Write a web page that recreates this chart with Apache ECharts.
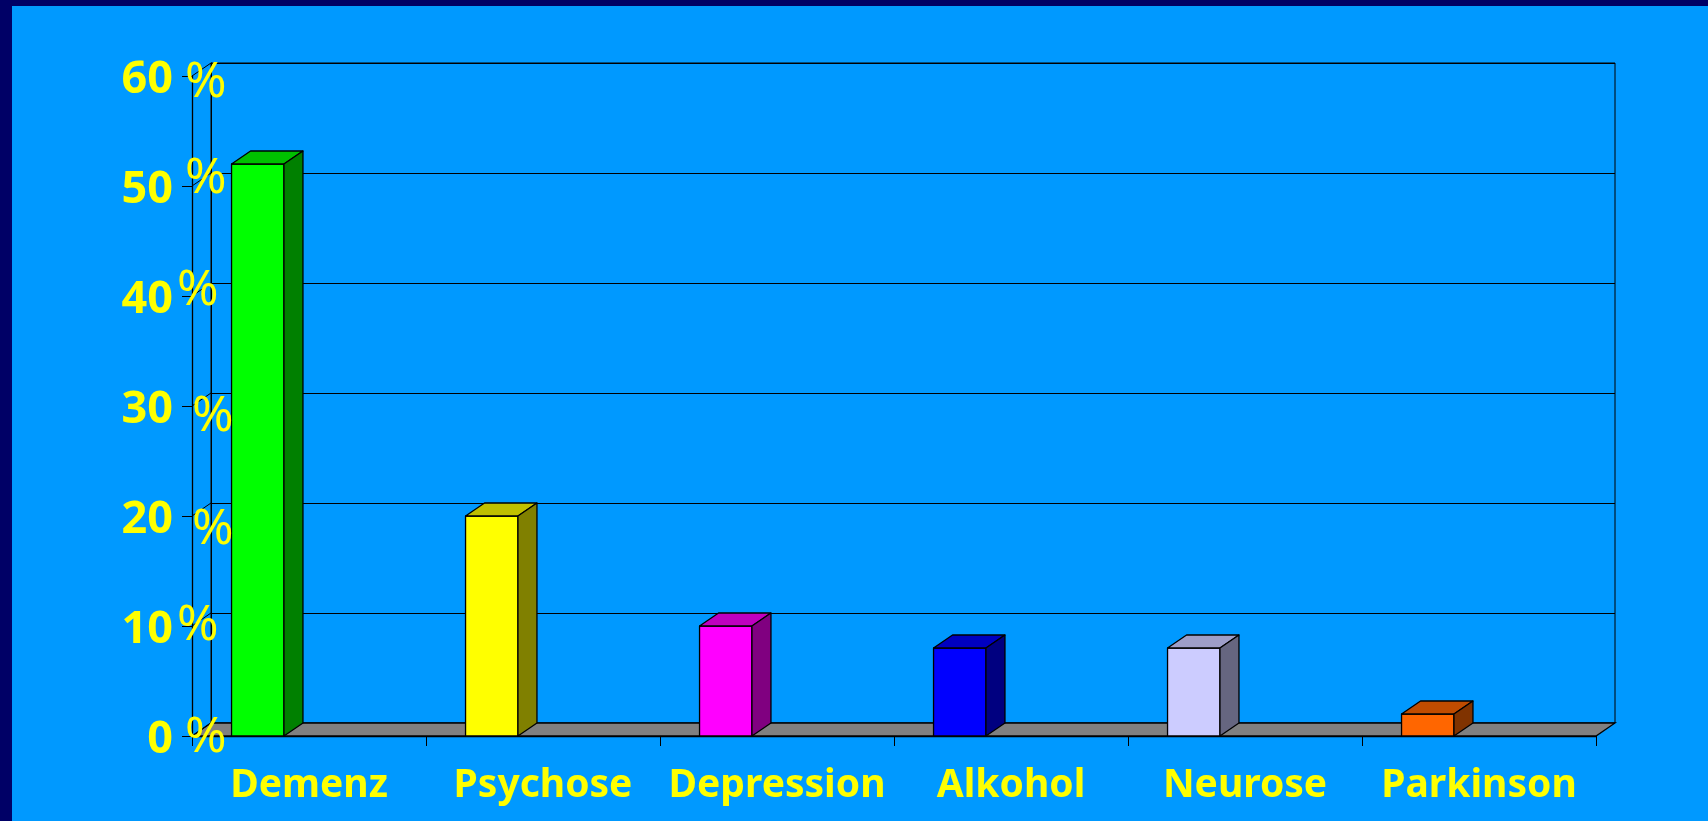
<!DOCTYPE html>
<html>
<head>
<meta charset="utf-8">
<title>Diagnosen</title>
<script src="https://cdn.jsdelivr.net/npm/echarts@6/dist/echarts.min.js"></script>
<style>
  html, body { margin: 0; padding: 0; background: #000066; }
  #frame { position: absolute; left: 12px; top: 6px; right: 0; bottom: 0; background: #0099FF; }
  #chart { position: absolute; left: 0; top: 0; width: 1708px; height: 821px; }
</style>
</head>
<body>
<div id="frame"></div>
<div id="chart"></div>
<script>
// Diagnoses and their shares in percent
const categories = ['Demenz', 'Psychose', 'Depression', 'Alkohol', 'Neurose', 'Parkinson'];
const shares = [52, 20, 10, 8, 8, 2];
// value-axis ticks (percent)
const yTicks = [0, 10, 20, 30, 40, 50, 60];

// Face colours of each column: front, top, side
const frontColors = ['#00FF00', '#FFFF00', '#FF00FF', '#0000FF', '#CCCCFF', '#FF6600'];
const topColors   = ['#00C000', '#C0C000', '#C000C0', '#0000C0', '#9E9EC8', '#C04C00'];
const sideColors  = ['#008000', '#808000', '#800080', '#000080', '#666680', '#803300'];

const YELLOW = '#FFFF00';
const FONT = '"Noto Sans", "Liberation Sans", sans-serif';
// depth of the pseudo-3D box in pixels
const DX = 19, DY = -13;
// nudges of the "%" signs next to each tick (x from axis line, y from tick)
const pctNudge = [[-7, 2], [-15, 0], [0, 14], [0, 11], [-15, -5], [-7, -7], [-7, 7]];

const chart = echarts.init(document.getElementById('chart'), null, { renderer: 'canvas' });

function columnItem(params, api) {
  const idx = api.value(0);
  const v = api.value(1);
  const base = api.coord([idx, 0]);
  const top = api.coord([idx, v]);
  const bw = api.size([1, 0])[0];
  const w = bw * 0.224;
  const x0 = base[0] - bw / 2 + bw * 0.169;
  const yb = base[1], yt = top[1];
  const stroke = { stroke: '#000', lineWidth: 1.3, lineJoin: 'round' };
  return {
    type: 'group',
    children: [
      { type: 'rect', shape: { x: x0, y: yt, width: w, height: yb - yt },
        style: Object.assign({ fill: frontColors[idx] }, stroke) },
      { type: 'polygon', shape: { points: [[x0, yt], [x0 + w, yt], [x0 + w + DX, yt + DY], [x0 + DX, yt + DY]] },
        style: Object.assign({ fill: topColors[idx] }, stroke) },
      { type: 'polygon', shape: { points: [[x0 + w, yt], [x0 + w + DX, yt + DY], [x0 + w + DX, yb + DY], [x0 + w, yb]] },
        style: Object.assign({ fill: sideColors[idx] }, stroke) }
    ]
  };
}

function frameItem(params, api) {
  const t = api.value(1);
  const cs = params.coordSys;
  const y = api.coord([0, t])[1];
  const x = cs.x;
  const children = [
    { type: 'line', shape: { x1: x, y1: y, x2: x + DX, y2: y + DY },
      style: { stroke: '#000', lineWidth: 1 } }
  ];
  if (t === 0) {
    const xr = cs.x + cs.width;
    children.unshift({
      type: 'polygon',
      shape: { points: [[x, y], [xr, y], [xr + DX, y + DY], [x + DX, y + DY]] },
      style: { fill: '#808080', stroke: '#000', lineWidth: 1.3 }
    });
  }
  return { type: 'group', children };
}

function percentItem(params, api) {
  const i = params.dataIndex;
  const y = api.coord([0, api.value(1)])[1];
  const x = params.coordSys.x;
  return {
    type: 'text',
    x: x + pctNudge[i][0],
    y: y + pctNudge[i][1],
    style: {
      text: '%', fill: YELLOW, font: 'normal 50px ' + FONT,
      align: 'left', verticalAlign: 'middle'
    }
  };
}

chart.setOption({
  backgroundColor: 'transparent',
  animation: false,
  grid: [
    { left: 192, right: 112, top: 76, bottom: 85 },
    { left: 211, right: 93, top: 63, bottom: 98, show: true, borderColor: '#000', borderWidth: 1, backgroundColor: 'transparent' }
  ],
  xAxis: [
    {
      type: 'category', gridIndex: 0, data: categories, boundaryGap: true,
      axisLine: { lineStyle: { color: '#000', width: 1.3 } },
      axisTick: { show: true, interval: 0, length: 10, lineStyle: { color: '#000', width: 1 } },
      axisLabel: { interval: 0, color: YELLOW, fontSize: 39, fontWeight: 'bold', fontFamily: FONT, margin: 30 },
      splitLine: { show: false }
    },
    {
      type: 'category', gridIndex: 1, data: categories, show: false
    }
  ],
  yAxis: [
    {
      type: 'value', gridIndex: 0, min: 0, max: 60, interval: 10,
      axisLine: { show: true, lineStyle: { color: '#000', width: 1.3 } },
      axisTick: { show: true, length: 10, lineStyle: { color: '#000', width: 1 } },
      axisLabel: { color: YELLOW, fontSize: 45, fontWeight: 'bold', fontFamily: FONT, margin: 19,
                   verticalAlign: 'top', lineHeight: 9 },
      splitLine: { show: false }
    },
    {
      type: 'value', gridIndex: 1, min: 0, max: 60, interval: 10,
      axisLine: { show: true, lineStyle: { color: '#000', width: 1 } },
      axisTick: { show: false },
      axisLabel: { show: false },
      splitLine: { show: true, lineStyle: { color: '#000', width: 1 } }
    }
  ],
  series: [
    {
      type: 'custom', xAxisIndex: 0, yAxisIndex: 0, z: 1,
      data: yTicks.map(t => [0, t]),
      renderItem: frameItem, silent: true
    },
    {
      type: 'custom', xAxisIndex: 0, yAxisIndex: 0, z: 3,
      data: shares.map((v, i) => [i, v]),
      renderItem: columnItem, silent: true
    },
    {
      type: 'custom', xAxisIndex: 0, yAxisIndex: 0, z: 5, clip: false,
      data: yTicks.map(t => [0, t]),
      renderItem: percentItem, silent: true
    }
  ]
});
</script>
</body>
</html>
